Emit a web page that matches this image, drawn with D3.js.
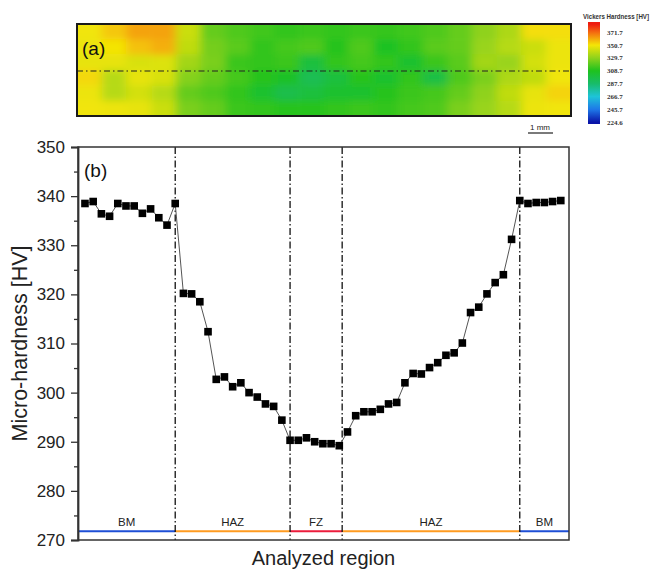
<!DOCTYPE html>
<html lang="en">

<head>
    <meta charset="UTF-8" />
    <title>Micro-hardness profile</title>
    <script src="https://cdnjs.cloudflare.com/ajax/libs/d3/7.8.5/d3.min.js"></script>
    <style>
        body {
            margin: 0;
            padding: 0;
            background: white;
        }

        svg text {
            font-family: 'Liberation Sans', Arial, sans-serif;
        }
    </style>
</head>

<body>
    <svg id="chart" width="652" height="570"></svg>

    <script>
        // hardness along the analyzed line, one value per indent (HV)
        const hardness = [
            338.5, 338.9, 336.4, 335.9, 338.5, 338.0, 338.0, 336.5, 337.4, 335.6, 334.1,
            338.5, 320.2, 320.1, 318.5, 312.4, 302.7, 303.2, 301.2, 302.0, 300.0, 299.1,
            297.7, 297.2, 294.4, 290.3, 290.3, 290.8, 290.0, 289.6, 289.6, 289.2, 292.0,
            295.3, 296.1, 296.1, 296.6, 297.7, 298.0, 302.0, 303.9, 303.8, 305.1, 306.1,
            307.6, 308.1, 310.1, 316.3, 317.4, 320.1, 322.4, 324.0, 331.2, 339.1, 338.5,
            338.7, 338.7, 338.9, 339.1
        ];

        // region boundaries (in indent index units) and zone labels
        const boundaries = [11, 25, 31.35, 53];
        const zones = ["BM", "HAZ", "FZ", "HAZ", "BM"];
        const zoneColors = ["#1f4fd6", "#ff9b21", "#ec1d3c", "#ff9b21", "#1f4fd6"];

        const yTicks = [270, 280, 290, 300, 310, 320, 330, 340, 350];
        const yMinorTicks = [275, 285, 295, 305, 315, 325, 335, 345];

        // hardness map (a): rows top -> bottom, columns left -> right (HV)
        const mapRows = [
            [350, 356, 362, 362, 342, 322, 318, 315, 312, 314, 312, 314, 313, 315, 318, 322, 330, 336, 352, 352],
            [349, 351, 357, 360, 340, 325, 320, 312, 316, 318, 310, 318, 308, 312, 320, 322, 332, 338, 342, 349],
            [348, 348, 345, 346, 334, 326, 314, 312, 314, 300, 312, 316, 312, 304, 314, 320, 334, 332, 344, 349],
            [353, 338, 348, 345, 328, 322, 316, 310, 306, 294, 300, 310, 304, 312, 298, 318, 326, 336, 340, 350],
            [349, 338, 344, 338, 322, 318, 312, 304, 296, 300, 304, 304, 310, 314, 316, 322, 330, 340, 348, 354],
            [350, 349, 348, 342, 326, 322, 314, 312, 310, 310, 312, 314, 312, 316, 318, 326, 332, 338, 349, 350]
        ];

        const legendValues = [371.7, 350.7, 329.7, 308.7, 287.7, 266.7, 245.7, 224.6];
        const legendStops = [224.6, 245.7, 266.7, 287.7, 308.7, 329.7, 350.7, 371.7, 385];
        const legendColors = ["#0a14a8", "#1e78e8", "#1ec4d8", "#18bc6a", "#1ec21e", "#8ed21c", "#f4e606", "#f46a10", "#ee1c10"];

        const svg = d3.select("#chart");
        const color = d3.scaleLinear().domain(legendStops).range(legendColors).clamp(true);

        // ---------- (a) hardness map ----------
        const map = { x0: 77, x1: 571, y0: 24, y1: 116 };
        const defs = svg.append("defs");

        defs.append("clipPath").attr("id", "mapclip")
            .append("rect")
            .attr("x", map.x0).attr("y", map.y0)
            .attr("width", map.x1 - map.x0).attr("height", map.y1 - map.y0);

        defs.append("filter").attr("id", "smooth")
            .attr("x", "-10%").attr("y", "-30%").attr("width", "120%").attr("height", "160%")
            .append("feGaussianBlur").attr("stdDeviation", "5 3.5");

        const mx = d3.scaleBand().domain(d3.range(mapRows[0].length)).range([map.x0, map.x1]);
        const my = d3.scaleBand().domain(d3.range(mapRows.length)).range([map.y0, map.y1]);
        const pad = 14; // stretch edge cells so the blur does not fade at the border

        const cells = [];
        mapRows.forEach((row, r) => row.forEach((v, c) => cells.push({ r, c, v })));

        svg.append("g").attr("clip-path", "url(#mapclip)")
            .append("g").attr("filter", "url(#smooth)")
            .selectAll("rect")
            .data(cells)
            .join("rect")
            .attr("x", d => mx(d.c) - (d.c === 0 ? pad : 0))
            .attr("y", d => my(d.r) - (d.r === 0 ? pad : 0))
            .attr("width", d => mx.bandwidth() + 0.6 + (d.c === 0 || d.c === mapRows[0].length - 1 ? pad : 0))
            .attr("height", d => my.bandwidth() + 0.6 + (d.r === 0 || d.r === mapRows.length - 1 ? pad : 0))
            .attr("fill", d => color(d.v));

        svg.append("line")
            .attr("x1", map.x0).attr("x2", map.x1)
            .attr("y1", 71).attr("y2", 71)
            .attr("stroke", "#222").attr("stroke-width", 1.2)
            .attr("stroke-dasharray", "6,3,1.5,3");

        svg.append("rect")
            .attr("x", map.x0).attr("y", map.y0)
            .attr("width", map.x1 - map.x0).attr("height", map.y1 - map.y0)
            .attr("fill", "none").attr("stroke", "#1a1a1a").attr("stroke-width", 2);

        svg.append("text").attr("x", 82).attr("y", 55)
            .attr("font-size", 19).attr("fill", "#111").text("(a)");

        // scale bar
        svg.append("text").attr("x", 540).attr("y", 130)
            .attr("text-anchor", "middle").attr("font-size", 8).attr("fill", "#222").text("1 mm");
        svg.append("line").attr("x1", 528).attr("x2", 553).attr("y1", 133).attr("y2", 133)
            .attr("stroke", "#222").attr("stroke-width", 1.2);

        // colour bar
        const legY = d3.scaleLinear().domain([371.7, 224.6]).range([32.3, 122.3]);
        const grad = defs.append("linearGradient").attr("id", "legendgrad")
            .attr("x1", 0).attr("x2", 0).attr("y1", 0).attr("y2", 1);
        const barTop = 22, barBottom = 124;
        legendStops.slice().reverse().forEach(v => {
            const t = Math.max(0, Math.min(1, (legY(v) - barTop) / (barBottom - barTop)));
            grad.append("stop").attr("offset", t).attr("stop-color", color(v));
        });
        svg.append("rect").attr("x", 588).attr("y", barTop)
            .attr("width", 12).attr("height", barBottom - barTop)
            .attr("fill", "url(#legendgrad)");

        svg.append("text").attr("x", 583).attr("y", 19)
            .attr("font-size", 6.5).attr("font-weight", "bold")
            .attr("textLength", 66).attr("lengthAdjust", "spacingAndGlyphs")
            .attr("fill", "#333").text("Vickers Hardness [HV]");

        svg.append("g").selectAll("text")
            .data(legendValues)
            .join("text")
            .attr("x", 607).attr("y", d => legY(d) + 2.5)
            .attr("font-size", 7).attr("font-weight", "bold")
            .style("font-family", "'Liberation Serif', serif")
            .attr("fill", "#333")
            .text(d => d.toFixed(1));

        // ---------- (b) micro-hardness profile ----------
        const plot = { left: 78, right: 569, top: 147, bottom: 540 };
        const x = d3.scaleLinear().domain([-0.85, 59]).range([plot.left, plot.right]);
        const y = d3.scaleLinear().domain([270, 350]).range([plot.bottom, plot.top]);

        // zone bars along the bottom
        const edges = [x.domain()[0]].concat(boundaries, [x.domain()[1]]);
        const zoneData = zones.map((z, i) => ({ name: z, from: edges[i], to: edges[i + 1], color: zoneColors[i] }));

        svg.append("g").selectAll("line")
            .data(zoneData)
            .join("line")
            .attr("x1", d => x(d.from)).attr("x2", d => x(d.to))
            .attr("y1", y(271.8)).attr("y2", y(271.8))
            .attr("stroke", d => d.color).attr("stroke-width", 2);

        svg.append("g").selectAll("text")
            .data(zoneData)
            .join("text")
            .attr("x", d => (x(d.from) + x(d.to)) / 2)
            .attr("y", y(272.8))
            .attr("text-anchor", "middle")
            .attr("font-size", 11.5).attr("fill", "#222")
            .text(d => d.name);

        // boundaries
        svg.append("g").selectAll("line")
            .data(boundaries)
            .join("line")
            .attr("x1", d => x(d)).attr("x2", d => x(d))
            .attr("y1", plot.top).attr("y2", plot.bottom)
            .attr("stroke", "#111").attr("stroke-width", 1.3)
            .attr("stroke-dasharray", "7,2.5,1.5,2.5");

        // profile
        svg.append("path")
            .datum(hardness)
            .attr("fill", "none")
            .attr("stroke", "#555")
            .attr("stroke-width", 1)
            .attr("d", d3.line().x((d, i) => x(i)).y(d => y(d)));

        const sq = 7.6;
        svg.append("g").selectAll("rect")
            .data(hardness)
            .join("rect")
            .attr("x", (d, i) => x(i) - sq / 2)
            .attr("y", d => y(d) - sq / 2)
            .attr("width", sq).attr("height", sq)
            .attr("fill", "#000");

        // frame and axes
        svg.append("rect")
            .attr("x", plot.left).attr("y", plot.top)
            .attr("width", plot.right - plot.left).attr("height", plot.bottom - plot.top)
            .attr("fill", "none").attr("stroke", "#333").attr("stroke-width", 1.5);

        const yAxis = svg.append("g")
            .attr("transform", `translate(${plot.left},0)`)
            .call(d3.axisLeft(y).tickValues(yTicks).tickSize(7).tickPadding(6).tickFormat(d3.format("d")));
        yAxis.select(".domain").attr("stroke", "#333").attr("stroke-width", 1.8);
        yAxis.selectAll(".tick line").attr("stroke", "#333").attr("stroke-width", 1.3);
        yAxis.selectAll(".tick text")
            .attr("font-size", 17).attr("fill", "#222")
            .style("font-family", "'Liberation Sans', Arial, sans-serif");

        const yMinor = svg.append("g")
            .attr("transform", `translate(${plot.left},0)`)
            .call(d3.axisLeft(y).tickValues(yMinorTicks).tickSize(4).tickFormat(""));
        yMinor.select(".domain").remove();
        yMinor.selectAll(".tick line").attr("stroke", "#333").attr("stroke-width", 1.3);

        svg.append("text").attr("x", 84).attr("y", 177)
            .attr("font-size", 19).attr("fill", "#111").text("(b)");

        svg.append("text")
            .attr("transform", `translate(27,${(plot.top + plot.bottom) / 2}) rotate(-90)`)
            .attr("text-anchor", "middle")
            .attr("font-size", 21.5).attr("fill", "#222")
            .text("Micro-hardness [HV]");

        svg.append("text")
            .attr("x", (plot.left + plot.right) / 2).attr("y", 565)
            .attr("text-anchor", "middle")
            .attr("font-size", 20).attr("fill", "#222")
            .text("Analyzed region");
    </script>
</body>

</html>
